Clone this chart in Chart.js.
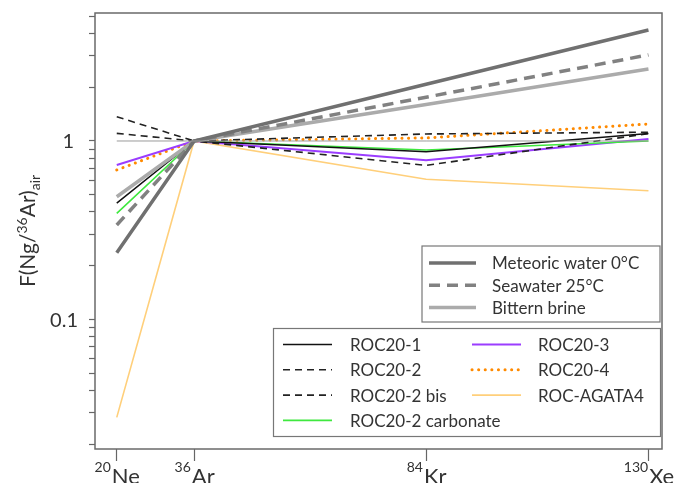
<!DOCTYPE html>
<html>
<head>
<meta charset="utf-8">
<script src="https://cdn.jsdelivr.net/npm/chart.js@4"></script>
<style>
  body { margin: 0; background: #fff; }
  canvas { display: block; }
</style>
</head>
<body>
<canvas id="chart" width="676" height="483"></canvas>
<script>
// x axis is linear in isotope mass
const masses = [20, 36, 84, 130];
const elements = ["Ne", "Ar", "Kr", "Xe"];
const massLabels = ["20", "36", "84", "130"];

// y ticks (log), only 0.1 and 1 get a label
const yTicks = [0.02, 0.03, 0.04, 0.05, 0.06, 0.07, 0.08, 0.09, 0.1,
                0.2, 0.3, 0.4, 0.5, 0.6, 0.7, 0.8, 0.9, 1, 2, 3, 4, 5];
const yLabelled = [0.1, 1];

// F(Ng/36Ar)air at Ne, Ar, Kr, Xe
const airLine   = [1, 1, 1, 1];
const meteoric  = [0.236, 1, 2.08, 4.19];
const seawater  = [0.338, 1, 1.76, 3.04];
const bittern   = [0.487, 1, 1.60, 2.53];
const roc1      = [0.448, 1, 0.871, 1.10];
const roc2      = [1.104, 1, 0.730, 1.10];
const roc2bis   = [1.368, 1, 1.095, 1.12];
const roc2carb  = [0.393, 1, 0.89, 1.0];
const roc3      = [0.733, 1, 0.78, 1.025];
const roc4      = [0.688, 1, 1.04, 1.245];
const agata     = [0.0282, 1, 0.61, 0.526];

const FONT = "Lato, 'Open Sans', sans-serif";
const TEXT = "#333";

function pts(vals) {
    return vals.map((v, i) => ({ x: masses[i], y: v }));
}

function line(label, vals, color, width, dash, cap) {
    return {
        label: label,
        data: pts(vals),
        borderColor: color,
        borderWidth: width,
        borderDash: dash || [],
        borderCapStyle: cap || "butt",
        pointRadius: 0,
        tension: 0,
        fill: false,
    };
}

const datasets = [
    line("air", airLine, "#9a9a9a", 1),
    line("Meteoric water 0°C", meteoric, "#707070", 3.5),
    line("Seawater 25°C", seawater, "#818181", 3.5, [11, 7]),
    line("Bittern brine", bittern, "#ababab", 3.5),
    line("ROC20-1", roc1, "#111", 1.5),
    line("ROC20-2", roc2, "#222", 1.6, [7, 5]),
    line("ROC20-2 bis", roc2bis, "#222", 1.6, [7, 5]),
    line("ROC20-2 carbonate", roc2carb, "#3fe83f", 1.6),
    line("ROC20-3", roc3, "#9b3dff", 2),
    line("ROC20-4", roc4, "#ff8a00", 3, [0.1, 6.5], "round"),
    line("ROC-AGATA4", agata, "#ffcf7a", 1.6),
];

// legend layout: [dataset index, column, row]
const legendTop = [[1, 0, 0], [2, 0, 1], [3, 0, 2]];
const legendBottom = [[4, 0, 0], [5, 0, 1], [6, 0, 2], [7, 0, 3],
                      [8, 1, 0], [9, 1, 1], [10, 1, 2]];

function drawSample(ctx, ds, x1, x2, y) {
    ctx.save();
    ctx.strokeStyle = ds.borderColor;
    ctx.lineWidth = ds.borderWidth;
    ctx.setLineDash(ds.borderDash);
    ctx.lineCap = ds.borderCapStyle;
    ctx.beginPath();
    ctx.moveTo(x1, y);
    ctx.lineTo(x2, y);
    ctx.stroke();
    ctx.restore();
}

const decorations = {
    id: "decorations",
    afterDraw(chart) {
        const ctx = chart.ctx;
        const a = chart.chartArea;
        const xs = chart.scales.x;
        const ys = chart.scales.y;

        // plot box
        ctx.save();
        ctx.strokeStyle = "#6a6a6a";
        ctx.lineWidth = 1.5;
        ctx.strokeRect(a.left, a.top, a.right - a.left, a.bottom - a.top);

        // y tick labels
        ctx.fillStyle = TEXT;
        ctx.font = "20px " + FONT;
        ctx.textAlign = "right";
        ctx.textBaseline = "middle";
        yLabelled.forEach(v => {
            ctx.fillText(String(v), v === 1 ? 74 : 78, ys.getPixelForValue(v) + 1);
        });

        // x labels: superscript mass + element, centred on the tick
        ctx.textBaseline = "alphabetic";
        ctx.textAlign = "left";
        masses.forEach((m, i) => {
            const px = xs.getPixelForValue(m);
            ctx.font = "14px " + FONT;
            const wSup = ctx.measureText(massLabels[i]).width;
            ctx.font = "22px " + FONT;
            const wEl = ctx.measureText(elements[i]).width;
            const x0 = px - (wSup + wEl) / 2;
            ctx.font = "14px " + FONT;
            ctx.fillText(massLabels[i], x0, 472);
            ctx.font = "22px " + FONT;
            ctx.fillText(elements[i], x0 + wSup + 1, 484);
        });

        // y title F(Ng/36Ar)air, rotated
        const parts = [
            ["F(Ng/", 21, 0],
            ["36", 14, -8],
            ["Ar)", 21, 0],
            ["air", 14, 5],
        ];
        let total = 0;
        parts.forEach(p => {
            ctx.font = p[1] + "px " + FONT;
            total += ctx.measureText(p[0]).width;
        });
        ctx.translate(35, (a.top + a.bottom) / 2);
        ctx.rotate(-Math.PI / 2);
        let tx = -total / 2;
        parts.forEach(p => {
            ctx.font = p[1] + "px " + FONT;
            ctx.fillText(p[0], tx, p[2]);
            tx += ctx.measureText(p[0]).width;
        });
        ctx.restore();

        // legend boxes
        const sets = chart.data.datasets;
        ctx.save();
        ctx.font = "17px " + FONT;
        ctx.textBaseline = "middle";
        ctx.textAlign = "left";

        // top box (models)
        ctx.fillStyle = "#fff";
        ctx.fillRect(422, 246, 238, 76);
        ctx.strokeStyle = "#777";
        ctx.lineWidth = 1.2;
        ctx.strokeRect(422, 246, 238, 76);
        legendTop.forEach(([k, col, row]) => {
            const y = 263 + row * 22.3;
            drawSample(ctx, sets[k], 429, 476, y);
            ctx.fillStyle = TEXT;
            ctx.fillText(sets[k].label, 492, y + 1);
        });

        // bottom box (samples)
        ctx.fillStyle = "#fff";
        ctx.fillRect(273.5, 328.5, 387, 108);
        ctx.strokeRect(273.5, 328.5, 387, 108);
        legendBottom.forEach(([k, col, row]) => {
            const y = 344.5 + row * 25.3;
            const x1 = col === 0 ? 283 : 472;
            drawSample(ctx, sets[k], x1, x1 + 49, y);
            ctx.fillStyle = TEXT;
            ctx.fillText(sets[k].label, col === 0 ? 350 : 538, y + 1);
        });
        ctx.restore();
    }
};

new Chart(document.getElementById("chart"), {
    type: "line",
    data: { datasets: datasets },
    options: {
        responsive: false,
        animation: false,
        devicePixelRatio: 1,
        layout: { padding: { left: 0, top: 13, right: 14, bottom: 0 } },
        plugins: {
            legend: { display: false },
            tooltip: { enabled: false },
        },
        scales: {
            x: {
                type: "linear",
                min: 15.5,
                max: 132.8,
                afterBuildTicks: (s) => { s.ticks = masses.map(v => ({ value: v })); },
                afterFit: (s) => { s.height = 34; },
                border: { display: false },
                grid: { drawOnChartArea: false, drawTicks: true, tickLength: 12, tickColor: "#666", tickWidth: 1.2 },
                ticks: { display: false },
            },
            y: {
                type: "logarithmic",
                min: 0.01875,
                max: 5.22,
                afterBuildTicks: (s) => { s.ticks = yTicks.map(v => ({ value: v })); },
                afterFit: (s) => { s.width = 95; },
                border: { display: false },
                grid: { drawOnChartArea: false, drawTicks: true, tickLength: 6, tickColor: "#666", tickWidth: 1.2 },
                ticks: { display: false },
            },
        },
    },
    plugins: [decorations],
});
</script>
</body>
</html>
